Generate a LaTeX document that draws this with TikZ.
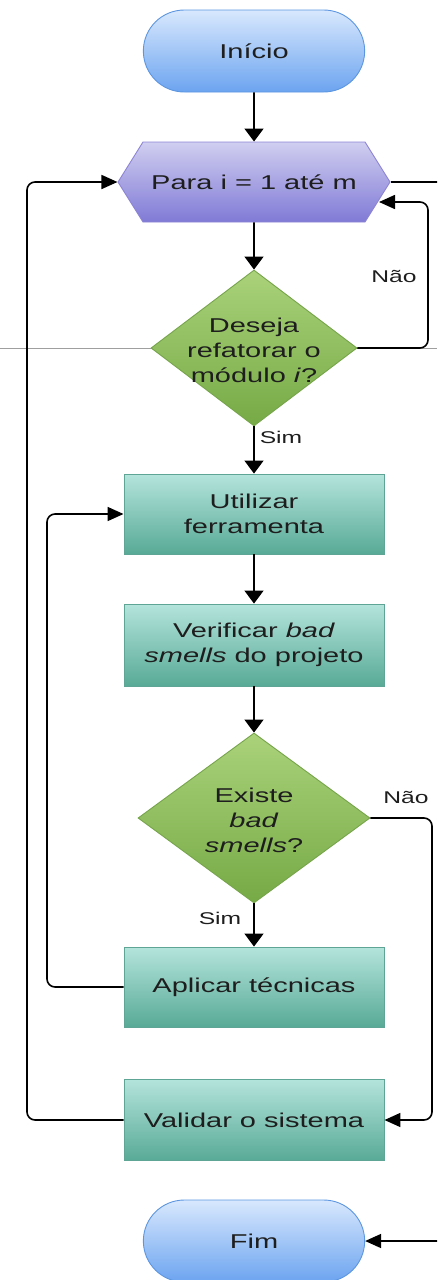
\documentclass[tikz,border=0pt]{standalone}
\usepackage{fontspec}
\setmainfont[FakeStretch=1.45]{Liberation Sans}
\usetikzlibrary{shapes.geometric,shapes.misc,shapes.symbols,arrows.meta}

\definecolor{termtop}{RGB}{216,232,253}
\definecolor{termbot}{RGB}{108,164,240}
\definecolor{termborder}{RGB}{92,150,225}
\definecolor{hextop}{RGB}{208,206,240}
\definecolor{hexbot}{RGB}{128,122,214}
\definecolor{hexborder}{RGB}{140,132,212}
\definecolor{dectop}{RGB}{170,210,122}
\definecolor{decbot}{RGB}{118,170,70}
\definecolor{decborder}{RGB}{118,164,74}
\definecolor{proctop}{RGB}{180,228,220}
\definecolor{procbot}{RGB}{88,170,150}
\definecolor{procborder}{RGB}{95,165,150}
\definecolor{ink}{RGB}{30,30,30}

\begin{document}
\begin{tikzpicture}[x=1pt,y=-1pt,
  txt/.style={text=ink, font=\fontsize{20}{25}\selectfont, align=center},
  lbl/.style={text=ink, font=\fontsize{17}{20}\selectfont},
  term/.style={rounded rectangle, minimum width=228pt, minimum height=82pt,
    draw=termborder, line width=0.9pt, top color=termtop, bottom color=termbot, txt},
  loopbox/.style={signal, signal to=west and east, signal pointer angle=116,
    minimum width=272pt, minimum height=80pt, inner sep=0pt,
    draw=hexborder, line width=0.9pt, top color=hextop, bottom color=hexbot, txt},
  proc/.style={rectangle, minimum width=260pt, minimum height=80pt,
    draw=procborder, line width=0.9pt, top color=proctop, bottom color=procbot, txt},
  dec/.style={diamond, inner sep=0pt, draw=decborder, line width=0.9pt,
    top color=dectop, bottom color=decbot},
  flow/.style={line width=1.6pt, draw=black, rounded corners=8pt},
  va/.style={flow, -{Triangle[length=13pt,width=19pt]}},
  ha/.style={flow, -{Triangle[length=16pt,width=14pt]}},
]
\useasboundingbox (0,0) rectangle (437,1280);
\clip (0,0) rectangle (437,1280);

% stray guide line behind the diagram
\draw[gray!75, line width=0.8pt] (0,348) -- (437,348);

% nodes
\node[term] (ini) at (254,51) {Início};
\node[loopbox] (para) at (254,182) {Para i = 1 até m};
\node[dec, minimum width=206pt, minimum height=156pt] (d1) at (254,348) {};
\node[txt] (d1t) at (254,350) {Deseja\\refatorar o\\módulo \textit{i}?};
\node[proc] (util) at (254,514) {Utilizar\\ferramenta};
\node[proc, minimum height=82pt] (verif) at (254,645) {Verificar \textit{bad}\\\textit{smells} do projeto};
\node[dec, minimum width=232pt, minimum height=170pt] (d2) at (254,818) {};
\node[txt] (d2t) at (254,820) {Existe\\\textit{bad}\\\textit{smells}?};
\node[proc] (aplic) at (254,987) {Aplicar técnicas};
\node[proc, minimum height=81pt] (valid) at (254,1120) {Validar o sistema};
\node[term] (fim) at (254,1241) {Fim};

\coordinate (nao1in) at (379,202);
\coordinate (exitR) at (440,182);
\coordinate (fimR) at (440,1241);

% connectors
\draw[va] (ini) -- (para);
\draw[va] (para) -- (d1.north);
\draw[va] (d1.south) -- (util);
\draw[va] (util) -- (verif);
\draw[va] (verif) -- (d2.north);
\draw[va] (d2.south) -- (aplic);
\draw[ha] (d1.east) -- (428,348) -- (428,202) -- (nao1in);
\draw[flow] (para.east) -- (exitR);
\draw[ha] (aplic.west) -- (47,987) -- (47,514) -- (util.west);
\draw[ha] (valid.west) -- (27,1120) -- (27,182) -- (para.west);
\draw[ha] (d2.east) -- (432,818) -- (432,1120) -- (valid.east);
\draw[ha] (fimR) -- (fim.east);

% branch labels
\node[lbl] (nao1) at (394,276) {Não};
\node[lbl] (sim1) at (281,437) {Sim};
\node[lbl] (nao2) at (406,797) {Não};
\node[lbl] (sim2) at (220,918) {Sim};
\end{tikzpicture}
\end{document}
